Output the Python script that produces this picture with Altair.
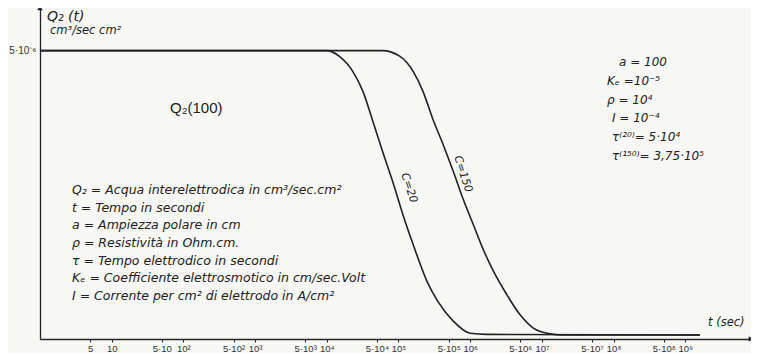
import json
import altair as alt
import pandas as pd

# ---- data (t in seconds, Q2 in units of 1e-6 cm3/sec cm2) ----
t_c20 = [1, 1.0e4, 1.5e4, 2.3e4, 3.2e4, 4.4e4, 6.0e4, 8.3e4, 1.15e5, 1.6e5,
         2.5e5, 3.5e5, 5.8e5, 1.0e6, 1.7e6, 1.6e9]
q_c20 = [5.0, 5.0, 4.90, 4.64, 4.29, 3.77, 3.25, 2.73, 2.16, 1.64,
         1.00, 0.66, 0.31, 0.10, 0.08, 0.07]
t_c150 = [1, 6.0e4, 1.05e5, 1.6e5, 2.2e5, 3.0e5, 4.2e5, 5.8e5, 7.9e5, 1.1e6,
          1.5e6, 2.1e6, 3.2e6, 4.9e6, 7.6e6, 1.3e7, 1.8e7, 1.6e9]
q_c150 = [5.0, 5.0, 4.90, 4.64, 4.29, 3.82, 3.37, 2.91, 2.44, 1.99,
          1.57, 1.18, 0.78, 0.43, 0.19, 0.09, 0.07, 0.07]

x_ticks = [5, 10, 50, 100, 500, 1e3, 5e3, 1e4, 5e4, 1e5, 5e5, 1e6, 5e6, 1e7,
           5e7, 1e8, 5e8, 1e9]
x_tick_labels = ["5", "10", "5·10", "10²", "5·10²", "10³", "5·10³", "10⁴",
                 "5·10⁴", "10⁵", "5·10⁵", "10⁶", "5·10⁶", "10⁷", "5·10⁷",
                 "10⁸", "5·10⁸", "10⁹"]
y_ticks = [5]
y_tick_labels = ["5·10⁻⁶"]

x_domain = [1, 8.25e9]
y_domain = [0, 5.74]

curve_labels = ["C=20", "C=150"]
curve_label_t = [1.4e5, 7.9e5]
curve_label_q = [2.62, 2.86]

legend_lines = [
    "Q₂ = Acqua interelettrodica  in cm³/sec.cm²",
    "t  = Tempo in secondi",
    "a  = Ampiezza polare in cm",
    "ρ = Resistività in Ohm.cm.",
    "τ = Tempo elettrodico in secondi",
    "Kₑ = Coefficiente elettrosmotico in  cm/sec.Volt",
    "I  = Corrente per cm² di elettrodo in A/cm²",
]
param_lines = ["a = 100", "Kₑ =10⁻⁵", "ρ = 10⁴", "I = 10⁻⁴",
               "τ⁽²⁰⁾= 5·10⁴", "τ⁽¹⁵⁰⁾= 3,75·10⁵"]

# ---- tables ----
curves = pd.concat([
    pd.DataFrame({"t": t_c20, "q": q_c20, "c": "C=20"}),
    pd.DataFrame({"t": t_c150, "q": q_c150, "c": "C=150"}),
])
lab_df = pd.DataFrame({"t": curve_label_t, "q": curve_label_q, "lab": curve_labels})

W, H = 711, 331
INK = "#222222"
FONT = "Liberation Sans"
HAND = "DejaVu Sans"

xs = alt.Scale(type="log", domain=x_domain, nice=False)
ys = alt.Scale(domain=y_domain, nice=False, zero=False)

x_expr = f"{json.dumps(x_tick_labels, ensure_ascii=False)}[indexof({json.dumps(x_ticks)}, datum.value)]"
y_expr = f"{json.dumps(y_tick_labels, ensure_ascii=False)}[indexof({json.dumps(y_ticks)}, datum.value)]"

lines = alt.Chart(curves).mark_line(
    color=INK, strokeWidth=1.6, interpolate="monotone", clip=True
).encode(
    x=alt.X("t:Q", scale=xs, axis=alt.Axis(
        values=x_ticks, labelExpr=x_expr, title=None, grid=False,
        domainColor=INK, domainWidth=1.3, tickColor=INK, tickSize=3,
        labelFont=FONT, labelFontSize=9.5, labelColor="#333", labelPadding=1,
        labelFlush=False, labelOverlap=False)),
    y=alt.Y("q:Q", scale=ys, axis=alt.Axis(
        values=y_ticks, labelExpr=y_expr, title=None, grid=False,
        domainColor=INK, domainWidth=1.3, ticks=False, labelPadding=4,
        labelFont=FONT, labelFontSize=10, labelColor="#333")),
    detail="c:N",
)

arrow_x = alt.Chart(pd.DataFrame({"t": [x_domain[1]], "q": [y_domain[0]]})).mark_point(
    shape="triangle-right", filled=True, color=INK, size=30, opacity=1
).encode(x=alt.X("t:Q", scale=xs), y=alt.Y("q:Q", scale=ys, axis=None))

arrow_y = alt.Chart(pd.DataFrame({"t": [x_domain[0]], "q": [y_domain[1]]})).mark_point(
    shape="triangle-up", filled=True, color=INK, size=30, opacity=1
).encode(x=alt.X("t:Q", scale=xs), y=alt.Y("q:Q", scale=ys, axis=None))

curve_text = alt.Chart(lab_df).mark_text(
    font=HAND, fontStyle="italic", fontSize=11, color=INK, angle=72
).encode(x=alt.X("t:Q", scale=xs), y=alt.Y("q:Q", scale=ys, axis=None),
         text="lab:N")

legend_df = pd.DataFrame({"line": legend_lines, "i": list(range(len(legend_lines)))})
legend = alt.Chart(legend_df).mark_text(
    font=HAND, fontStyle="italic", fontSize=12.5, color=INK, align="left", baseline="middle"
).encode(
    x=alt.value(32),
    y=alt.Y("i:O", scale=alt.Scale(type="point", padding=0, range=[182, 288]), axis=None),
    text="line:N",
)

param_df = pd.DataFrame({"line": param_lines, "i": list(range(len(param_lines)))})
param_base = alt.Chart(param_df)


def param_layer(flt, dx):
    return param_base.transform_filter(flt).mark_text(
        font=HAND, fontStyle="italic", fontSize=12, color=INK, align="left",
        baseline="middle", dx=dx
    ).encode(
        x=alt.value(567),
        y=alt.Y("i:O", scale=alt.Scale(type="point", padding=0, range=[54, 148],
                                       domain=list(range(len(param_lines)))), axis=None),
        text="line:N",
    )


params = [param_layer("datum.i == 0", 12), param_layer("datum.i == 1 || datum.i == 2", 0),
          param_layer("datum.i >= 3", 5)]


def note(txt, x, y, size, style="italic", align="left", font=HAND):
    return alt.Chart(pd.DataFrame({"s": [txt]})).mark_text(
        font=font, fontStyle=style, fontSize=size, color=INK, align=align, baseline="middle"
    ).encode(x=alt.value(x), y=alt.value(y), text="s:N")


notes = [
    note("Q₂ (t)", 7, 9, 14),
    note("cm³/sec cm²", 10, 23, 11.5),
    note("Q₂(100)", 130, 100, 15, style="normal", font=FONT),
    note("t (sec)", 668, 315, 11.5),
]

chart = alt.layer(lines, arrow_x, arrow_y, curve_text, legend, *params, *notes).resolve_scale(
    y="independent"
).properties(
    width=W, height=H,
    autosize=alt.AutoSizeParams(type="none"),
    padding={"left": 32, "top": 0, "right": 0, "bottom": 14},
    background="#f7f7f5",
).configure_view(strokeWidth=0)

chart.save("out.html", embed_options={"renderer": "svg", "actions": False})
